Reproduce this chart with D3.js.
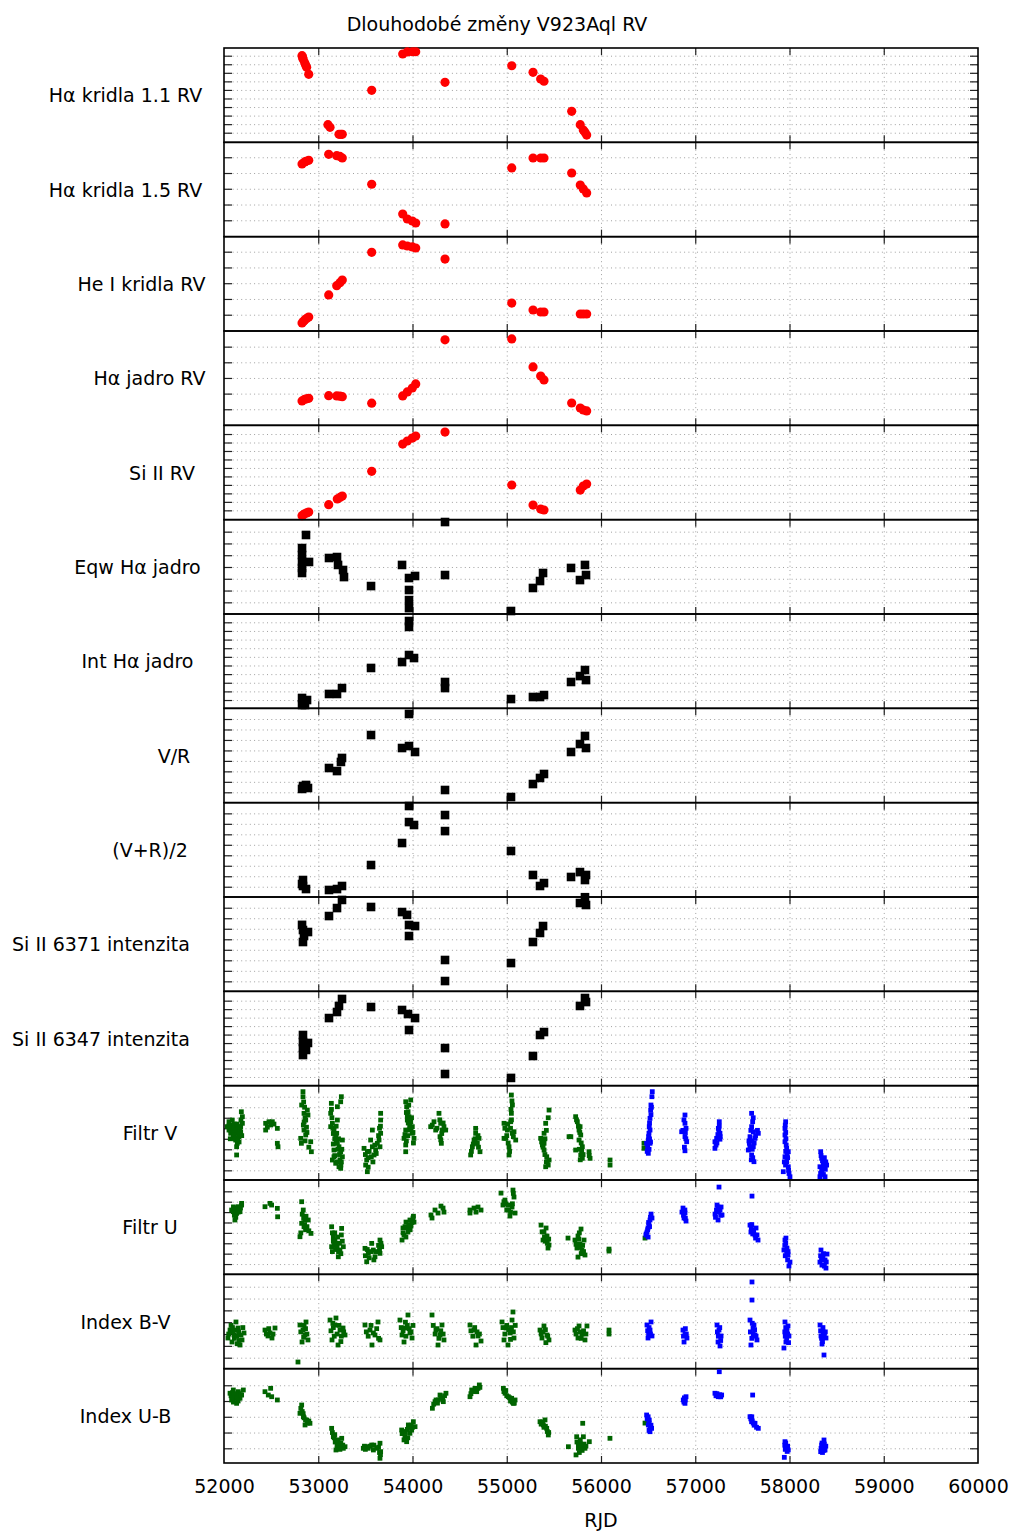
<!DOCTYPE html>
<html>
<head>
<meta charset="utf-8">
<script src="https://cdn.jsdelivr.net/npm/d3@7"></script>
<style>
  body { margin: 0; background: #fff; }
  text { font-family: "DejaVu Sans", sans-serif; fill: #000; }
</style>
</head>
<body>
<svg id="chart" width="1013" height="1532"></svg>
<script>
// ---- panel definitions (label, y-domain, tick step, number of ticks) ----
const panelLabels = [
  "Hα kridla 1.1 RV", "Hα kridla 1.5 RV", "He I kridla RV", "Hα jadro RV", "Si II RV",
  "Eqw Hα jadro", "Int Hα jadro", "V/R", "(V+R)/2", "Si II 6371 intenzita",
  "Si II 6347 intenzita", "Filtr V", "Filtr U", "Index B-V", "Index U-B"
];
const panelDomains = [
  [-9.0, 79.2], [-15.6, 74.2], [-15.5, 74.3], [-15.4, 75.0], [-8.8, 80.2],
  [-10.9, 77.2], [-7.7, 79.7], [-9.9, 80.2], [-9.8, 80.2], [-9.5, 80.2],
  [-8.2, 80.8], [-9.2, 80.5], [-9.9, 80.9], [-10.2, 77.5], [-14.0, 75.8]
];
const panelTickSteps = [8, 15, 15, 15, 8, 11, 8, 10, 10, 10, 8, 10, 10, 11, 15];
const panelTickCounts = [10, 5, 5, 5, 10, 7, 10, 8, 8, 8, 10, 8, 8, 7, 5];
const xTickValues = [52000, 53000, 54000, 55000, 56000, 57000, 58000, 59000, 60000];

// ---- spectroscopic series: [RJD, value] ----
const haWing11RV = [[52828,72.0],[52835,70.2],[52840,68.6],[52856,65.5],[52866,63.2],[52877,61.1],[52899,54.6],
  [53103,7.5],[53125,5.0],[53220,-1.5],[53240,-1.5],[53255,-1.5],[53567,39.6],
  [53896,73.6],[53945,75.5],[53998,75.7],[54034,75.7],[54345,47.1],[55053,62.6],
  [55279,56.5],[55360,50.2],[55395,48.1],[55689,20.0],[55780,7.5],[55812,2.5],[55830,0.5],[55848,-2.2]];
const haWing15RV = [[52828,53.6],[52856,55.5],[52870,56.2],[52899,57.1],
  [53111,62.8],[53196,61.5],[53230,60.8],[53255,59.3],[53567,34.3],
  [53896,6.0],[53945,1.2],[53998,-0.7],[54034,-2.6],[54345,-3.5],[55053,49.8],
  [55279,59.3],[55360,59.3],[55395,59.3],[55689,45.0],[55780,33.6],[55812,29.8],[55848,26.0]];
const heIWingRV = [[52828,-7.9],[52842,-6.5],[52856,-5.0],[52877,-3.5],[52899,-2.2],
  [53111,18.8],[53196,27.6],[53230,30.5],[53255,33.0],[53567,59.4],
  [53896,66.4],[53945,65.4],[53998,64.5],[54034,63.5],[54345,53.0],[55053,11.1],
  [55279,4.5],[55360,2.6],[55395,2.6],[55780,0.7],[55812,0.7],[55848,0.7]];
const haCoreRV = [[52828,8.0],[52856,9.6],[52877,10.0],[52899,10.5],
  [53111,13.0],[53196,12.8],[53230,12.5],[53255,12.1],[53567,5.8],
  [53896,12.8],[53945,16.6],[53998,20.4],[54034,24.3],[54345,66.5],[55053,67.4],
  [55279,40.6],[55360,31.9],[55395,28.1],[55689,6.0],[55780,1.2],[55812,-0.7],[55848,-1.6]];
const siIIRV = [[52828,-5.1],[52842,-4.2],[52856,-3.2],[52877,-2.4],[52899,-1.6],
  [53111,5.3],[53202,10.7],[53230,12.2],[53255,13.5],[53567,36.8],
  [53896,62.5],[53945,65.4],[53998,68.2],[54034,70.1],[54345,73.8],[55053,23.9],
  [55279,5.0],[55360,1.2],[55395,0.3],[55780,19.1],[55812,22.9],[55848,24.8]];
const eqwHaCore = [[52870,62.9],[52828,50.7],[52828,44.2],[52828,37.7],[52828,32.1],[52828,27.4],[52902,37.7],
  [53114,41.4],[53199,42.3],[53210,34.9],[53263,30.2],[53273,23.6],[53560,15.2],
  [53889,34.9],[53963,22.7],[53963,11.5],[53963,2.1],[53963,-5.4],[54027,24.6],
  [54345,25.5],[54345,75.0],[55045,-8.1],[55278,13.4],[55353,19.9],[55385,27.4],
  [55682,32.1],[55777,20.8],[55830,34.9],[55841,25.5]];
const intHaCore = [[52828,1.9],[52838,-1.9],[52859,-4.6],[52881,0.0],[52828,-4.6],
  [53114,5.6],[53199,5.6],[53252,11.1],[53560,29.7],[53889,35.2],[53963,41.7],[54016,38.9],
  [53963,73.2],[53963,67.7],[54345,16.7],[54345,11.1],[55045,0.9],[55278,2.8],[55353,2.8],[55395,4.6],
  [55682,16.7],[55777,22.2],[55830,27.8],[55841,18.5]];
const vrRatio = [[52838,6.0],[52891,4.1],[52828,3.2],[52870,7.0],[53114,23.2],[53199,20.3],[53252,32.8],[53241,29.0],
  [53560,54.7],[53889,42.3],[53963,44.2],[54027,38.5],[53963,74.8],[54345,2.2],[55045,-4.5],
  [55278,7.9],[55353,13.7],[55395,17.5],[55682,38.5],[55777,46.1],[55830,53.8],[55841,42.3]];
const vrMean = [[52838,6.4],[52838,0.7],[52870,-2.2],[52828,2.6],[53114,-3.1],[53199,-2.2],[53252,0.7],
  [53560,20.7],[53889,41.7],[53963,61.7],[54016,58.9],[53963,77.0],[54345,68.4],[54345,53.1],
  [55045,34.1],[55278,11.2],[55353,0.7],[55395,3.5],[55682,9.3],[55777,14.0],[55830,6.4],[55841,11.2]];
const siII6371 = [[52838,48.8],[52849,43.1],[52891,46.9],[52838,37.4],[52828,53.7],
  [53114,62.1],[53199,69.7],[53252,77.4],[53560,70.7],[53889,65.9],[53942,63.2],[53963,53.6],[53963,43.1],[54027,52.6],
  [54345,20.3],[54345,0.3],[55045,17.4],[55278,37.4],[55353,46.0],[55385,52.6],
  [55777,74.5],[55830,80.0],[55841,72.6]];
const siII6347 = [[52838,39.6],[52838,33.0],[52838,27.3],[52838,20.7],[52891,32.1],[52870,25.5],
  [53114,55.6],[53199,61.3],[53252,73.6],[53220,67.0],[53560,66.0],[53889,63.2],[53952,59.4],[53963,44.3],[54027,55.6],
  [54345,27.3],[54345,2.8],[55045,-0.9],[55278,19.8],[55353,39.6],[55395,42.4],
  [55777,67.0],[55830,74.5],[55841,70.7]];

// ---- photometry: older (green) and newer (blue) data sets ----
const filtrVOld = [[52053,46.2],[52078,43.1],[52106,39.9],[52124,38.3],[52141,35.2],[52099,33.6],[52071,35.2],[52159,32.0],
  [52124,28.8],[52141,25.7],[52134,22.4],[52177,41.5],[52195,44.7],[52184,55.7],[52195,51.0],[52177,36.7],[52053,38.3],
  [52099,30.4],[52149,41.5],[52134,14.6],[52035,41.5],[52088,47.8],
  [52060,42],[52075,38],[52090,36],[52110,34],[52115,30],[52130,31],[52145,29],[52155,36],[52165,40],[52110,44],
  [52095,40],[52050,42],[52067,30],[52120,38],[52140,44],[52180,48],[52188,33],[52160,27],
  [52442,44.7],[52477,46.2],[52513,46.2],[52442,38.3],[52495,43.1],[52566,39.9],[52566,25.7],[52573,22.4],
  [52460,41],[52500,45],[52530,44],
  [52838,74.8],[52838,70.0],[52824,62.1],[52849,54.2],[52867,47.8],[52884,57.3],[52891,52.6],[52842,43.1],[52849,38.3],
  [52814,30.4],[52821,25.7],[52867,33.6],[52920,27.2],[52927,17.7],
  [52845,65],[52855,60],[52860,50],[52850,46],[52875,41],[52880,36],[52860,28],[52900,22],
  [53139,63.7],[53132,54.2],[53150,44.7],[53167,38.3],[53185,32.0],[53203,25.7],[53167,19.3],[53150,9.8],[53185,6.7],
  [53220,3.4],[53238,1.9],[53256,12.9],[53245,70.0],[53238,65.2],[53203,47.8],[53220,22.4],[53256,28.8],[53167,12.9],
  [53132,41.5],[53196,35.2],[53238,17.7],[53203,60.5],
  [53140,58],[53145,50],[53155,40],[53160,35],[53175,30],[53190,28],[53210,20],[53225,15],[53230,10],[53240,5],
  [53200,8],[53175,14],[53160,25],[53215,30],[53250,20],[53245,8],[53190,42],
  [53486,20.9],[53521,17.7],[53514,9.8],[53503,5.0],[53521,-1.3],[53574,38.3],[53574,22.4],[53592,14.6],[53609,19.3],
  [53645,28.8],[53662,35.2],[53662,54.2],[53662,47.8],[53655,22.4],[53556,28.8],[53563,12.9],[53627,25.7],
  [53500,15],[53530,12],[53540,18],[53600,24],[53640,33],[53650,40],[53660,42],[53615,16],[53580,8],[53530,3],
  [53928,65.2],[53938,60.5],[53953,55.7],[53963,51.0],[53981,46.2],[53998,41.5],[54016,30.4],[53928,38.3],[53910,30.4],
  [53928,24.1],[53928,17.7],[53998,35.2],[53963,38.3],[53981,66.9],[53945,47.8],
  [53935,55],[53945,52],[53955,45],[53970,42],[53985,40],[54005,36],[54010,26],[53920,34],[53935,28],[53950,33],[53990,50],[53960,62],
  [54193,41.5],[54228,46.2],[54281,54.2],[54299,44.7],[54317,38.3],[54334,41.5],[54292,32.0],[54306,25.7],[54352,38.3],[54246,38.3],
  [54210,43],[54260,40],[54290,48],[54310,35],[54325,45],[54300,29],
  [54617,14.6],[54635,22.4],[54653,28.8],[54670,35.2],[54688,25.7],[54706,30.4],[54716,17.7],[54670,39.9],
  [54625,18],[54645,25],[54665,30],[54695,33],[54700,22],
  [55049,71.6],[55060,62.1],[55049,54.2],[55042,46.2],[55007,38.3],[54971,44.7],[54989,30.4],[55024,22.4],[55024,14.6],
  [55077,36.7],[55095,28.8],[55060,35.2],[54971,30.4],
  [54980,40],[55000,33],[55015,26],[55030,18],[55040,40],[55070,32],[55050,48],[55045,58],[55055,66],[55010,44],
  [55449,57.3],[55413,44.7],[55396,35.2],[55360,30.4],[55378,24.1],[55396,19.3],[55424,12.9],[55431,8.2],[55413,3.4],
  [55449,9.8],[55396,25.7],
  [55370,27],[55385,22],[55405,15],[55420,8],[55440,5],[55405,30],[55420,38],[55440,50],
  [55731,51.0],[55749,46.2],[55778,41.5],[55785,33.6],[55767,28.8],[55802,22.4],[55785,14.6],[55802,11.4],[55873,17.7],
  [55884,11.4],[55661,32.0],[55731,19.3],[55767,38.3],
  [55740,48],[55760,42],[55775,36],[55790,26],[55795,18],[55780,10],[55810,15],[55770,20],[55680,32],[55875,14],
  [56096,9.8],[56096,5.0],[56456,25.7],[56456,20.9]];
const filtrVNew = [[56544,74.8],[56530,62.1],[56527,57.3],[56520,49.4],[56512,41.5],[56509,35.2],[56502,28.8],[56495,22.4],
  [56502,16.2],[56520,38.3],[56520,25.7],[56484,25.7],
  [56515,45],[56505,32],[56515,30],[56525,27],[56490,18],[56510,20],[56530,53],[56535,60],[56540,70],
  [56891,52.6],[56891,44.7],[56856,36.7],[56902,39.9],[56891,32.0],[56909,27.2],[56891,18.6],
  [56880,48],[56895,36],[56900,30],[56870,38],[56885,22],
  [57255,46.2],[57245,39.9],[57262,35.2],[57227,30.4],[57209,27.2],[57209,20.9],[57262,29.6],
  [57240,34],[57250,38],[57230,26],[57220,24],[57255,42],[57265,32],
  [57598,54.2],[57609,46.2],[57598,41.5],[57616,36.7],[57669,35.2],[57581,32.0],[57574,25.7],[57563,19.3],[57598,14.6],
  [57623,8.2],[57634,30.4],[57616,22.4],
  [57590,38],[57600,28],[57605,20],[57610,12],[57580,22],[57625,26],[57640,33],[57660,38],[57570,28],[57615,50],[57595,10],
  [57959,46.2],[57952,39.9],[57952,33.6],[57952,27.2],[57970,20.9],[57987,17.7],[57952,12.9],[57970,8.2],[57987,3.4],
  [57934,-1.3],[58005,-6.1],
  [57955,43],[57960,36],[57962,30],[57965,24],[57975,15],[57980,12],[57958,5],[57990,0],[57995,-3],[57960,18],[57945,8],
  [58331,17.7],[58341,11.4],[58359,6.7],[58323,3.4],[58394,5.0],[58341,-1.3],[58377,-6.1],[58323,-6.1],
  [58335,14],[58350,9],[58365,4],[58345,0],[58360,-4],[58380,1],[58385,8],[58330,-3],[58370,12]];
const filtrUOld = [[52081,52.0],[52116,53.6],[52152,55.2],[52187,56.8],[52134,48.8],[52116,42.4],[52170,50.4],[52187,58.4],[52099,50.4],
  [52100,55],[52125,52],[52140,54],[52160,52],[52110,47],[52125,45],[52150,50],[52175,54],
  [52435,55.2],[52488,58.4],[52505,56.8],[52566,53.6],[52569,45.5],
  [52824,60.0],[52841,52.0],[52859,42.4],[52824,39.2],[52806,26.3],[52849,35.9],[52894,42.4],[52923,29.5],[52870,46.0],
  [52830,48],[52845,44],[52855,38],[52865,33],[52880,36],[52900,32],[52815,30],
  [53142,35.9],[53248,34.3],[53160,26.3],[53195,19.9],[53230,13.5],[53142,16.7],[53266,16.7],[53213,7.0],[53177,23.1],
  [53150,30],[53160,22],[53170,18],[53185,14],[53200,16],[53215,12],[53225,20],[53240,10],[53255,22],[53205,26],[53175,30],[53150,12],[53245,28],
  [53496,15.1],[53531,10.3],[53514,2.2],[53584,13.5],[53602,7.0],[53655,23.1],[53673,16.7],[53567,19.9],[53655,10.3],
  [53500,8],[53520,14],[53540,6],[53560,12],[53610,12],[53640,18],[53650,14],[53665,20],[53590,4],
  [53899,34.7],[53931,40.4],[53973,42.4],[54005,44.3],[53910,27.9],[53952,30.8],[53984,36.6],[54016,40.4],[53889,23.1],
  [53900,30],[53920,36],[53940,35],[53960,38],[53975,33],[53995,40],[54010,46],[53930,26],
  [54196,47.2],[54239,52.0],[54302,55.8],[54334,50.0],[54207,44.3],[54271,49.1],[54324,53.9],
  [54610,52.0],[54653,53.9],[54695,54.9],[54727,52.0],[54610,49.1],[54674,50.0],
  [54939,68.3],[54981,61.6],[55013,56.8],[55056,54.9],[55088,49.1],[55066,71.2],[55077,64.5],[54960,56.8],[55034,46.2],
  [54970,60],[54990,58],[55000,52],[55020,52],[55040,50],[55060,58],[55070,68],
  [55364,37.5],[55395,30.8],[55427,27.0],[55448,18.3],[55385,23.1],[55417,34.7],[55438,15.4],
  [55375,31],[55400,26],[55410,22],[55430,20],[55445,24],
  [55724,23.1],[55756,27.0],[55777,19.3],[55798,13.5],[55820,23.1],[55745,15.4],[55830,8.7],[55650,25.0],[55788,33.7],[55756,6.7],
  [55735,19],[55765,24],[55780,16],[55790,10],[55805,18],[55815,12],[55770,30],
  [56085,14.4],[56085,12.5],[56467,25.0]];
const filtrUNew = [[56477,27.9],[56499,34.7],[56520,42.4],[56531,48.1],[56509,37.5],[56488,30.8],[56541,44.3],
  [56495,33],[56505,40],[56515,36],[56525,45],[56480,29],[56500,26],
  [56870,53.9],[56891,49.1],[56881,44.3],[56902,41.4],[56859,50.0],
  [56875,47],[56890,52],[56895,44],
  [57252,74.1],[57231,56.8],[57263,52.0],[57284,47.2],[57210,48.1],[57242,42.4],[57274,54.9],
  [57225,52],[57250,50],[57270,47],[57240,55],[57215,45],
  [57602,65.4],[57581,37.5],[57613,32.7],[57634,27.9],[57666,23.1],[57591,30.8],[57645,34.7],
  [57595,35],[57610,29],[57620,31],[57640,25],[57655,28],[57600,38],
  [57952,23.1],[57973,15.4],[57984,8.7],[58005,1.9],[57941,13.5],[57962,25.0],[57994,-1.9],
  [57950,18],[57960,20],[57970,10],[57980,4],[57955,8],[57985,12],
  [58334,13.5],[58355,7.7],[58377,3.9],[58344,-1.0],[58387,-3.9],[58323,1.9],[58398,9.6],
  [58330,8],[58345,4],[58360,10],[58370,-2],[58340,6],[58390,2]];
const indexBVOld = [[52064,25.7],[52106,21.1],[52149,27.6],[52191,16.5],[52127,33.2],[52170,11.8],[52085,14.6],[52042,18.3],
  [52212,23.0],[52120,25.7],[52180,21.1],
  [52050,22],[52075,30],[52095,24],[52110,18],[52135,20],[52155,24],[52160,16],[52200,28],[52140,13],[52090,28],
  [52435,25.7],[52488,23.0],[52541,27.6],[52509,18.3],[52467,20.2],
  [52450,22],[52475,27],[52520,22],
  [52785,-4.0],[52806,30.4],[52838,25.7],[52859,21.1],[52891,16.5],[52828,14.6],[52870,33.2],
  [52815,24],[52845,19],[52865,27],[52880,22],[52850,30],
  [53125,35.0],[53178,30.4],[53231,25.7],[53284,21.1],[53146,16.5],[53210,11.8],[53263,27.6],[53188,36.9],
  [53135,25],[53160,28],[53170,20],[53200,22],[53220,30],[53245,20],[53270,24],[53155,32],[53240,15],
  [53496,30.4],[53549,25.7],[53602,21.1],[53655,16.5],[53570,11.8],[53634,33.2],
  [53510,24],[53530,20],[53560,30],[53585,23],[53620,27],[53640,18],
  [53867,35.0],[53920,27.6],[53973,23.0],[53995,18.3],[53910,14.6],[53952,39.7],[53889,21.1],
  [53880,28],[53900,25],[53930,20],[53945,30],[53965,27],[53985,24],[54005,30],[53925,33],
  [54207,39.7],[54249,25.7],[54292,21.1],[54334,16.5],[54271,11.8],[54313,30.4],
  [54220,30],[54240,22],[54260,27],[54280,18],[54300,25],[54325,22],
  [54610,30.4],[54653,25.7],[54695,20.2],[54727,15.5],[54674,11.8],
  [54620,25],[54640,20],[54660,28],[54685,24],[54710,22],
  [54950,33.2],[54992,27.6],[55034,23.0],[55066,42.5],[55077,18.3],[54971,16.5],[55013,11.8],[55056,35.0],
  [54960,28],[54980,22],[55000,30],[55020,26],[55040,17],[55050,28],[55070,24],[55090,30],
  [55353,25.7],[55395,29.5],[55427,21.1],[55448,16.5],[55374,18.3],
  [55365,22],[55385,24],[55410,26],[55435,20],[55415,14],
  [55724,25.7],[55767,29.5],[55798,22.0],[55830,16.5],[55756,18.3],[55851,29.5],
  [55735,22],[55750,27],[55780,24],[55790,18],[55815,25],[55840,22],
  [56085,25.7],[56085,22.0]];
const indexBVNew = [[56488,30.4],[56520,25.7],[56541,20.2],[56499,18.3],[56531,33.2],
  [56495,25],[56510,28],[56525,22],[56505,22],
  [56870,25.7],[56891,22.0],[56912,18.3],[56881,14.6],
  [56875,20],[56895,27],[56905,22],
  [57231,30.4],[57252,25.7],[57274,20.2],[57242,14.6],[57263,10.9],
  [57235,24],[57245,20],[57260,28],[57270,16],
  [57602,70.4],[57602,53.6],[57581,35.0],[57613,27.6],[57634,21.1],[57655,16.5],[57591,11.8],[57623,30.4],
  [57585,24],[57600,18],[57615,22],[57630,26],[57645,20],[57605,32],
  [57952,33.2],[57973,25.7],[57994,20.2],[57962,14.6],[57941,9.0],[57984,29.5],
  [57950,24],[57960,28],[57970,18],[57980,22],[57990,14],[57955,20],
  [58324,30.4],[58356,23.9],[58387,18.3],[58345,12.7],[58366,2.5],[58334,20.2],
  [58330,25],[58340,18],[58355,28],[58370,20],[58380,24],[58350,15]];
const indexUBOld = [[52064,52.4],[52099,55.5],[52152,53.9],[52187,50.7],[52117,47.6],[52134,42.8],[52081,46.0],[52205,55.5],[52170,47.6],
  [52075,50],[52090,53],[52110,52],[52125,50],[52140,48],[52160,52],[52180,51],[52100,44],[52150,45],
  [52435,53.9],[52470,50.7],[52506,49.1],[52495,57.1],[52566,46.0],
  [52824,41.2],[52806,33.3],[52842,30.1],[52877,26.9],[52912,23.8],[52860,22.2],
  [52815,38],[52830,35],[52850,29],[52865,27],[52885,24],[52900,26],[52840,33],
  [53142,19.0],[53160,11.0],[53195,6.3],[53231,3.1],[53284,1.5],[53188,-1.6],[53249,9.5],[53266,0.0],
  [53150,15],[53170,10],[53180,6],[53200,4],[53210,8],[53220,2],[53240,5],[53260,3],[53175,13],[53200,0],[53230,-1],
  [53478,0.0],[53514,1.5],[53567,3.1],[53585,-1.6],[53655,4.8],[53662,-3.2],[53655,-9.5],[53620,0.0],
  [53490,2],[53500,-1],[53530,0],[53550,2],[53590,3],[53640,1],[53650,-4],[53660,-6],
  [53885,17.4],[53920,11.0],[53938,6.3],[53973,14.3],[54009,25.3],[54027,20.6],[53956,22.2],[53991,17.4],
  [53890,14],[53905,16],[53925,15],[53945,18],[53965,20],[53985,22],[54000,20],[53910,8],[53950,10],
  [54211,38.1],[54239,44.4],[54292,50.7],[54327,44.4],[54355,52.4],[54274,46.0],
  [54225,42],[54250,46],[54265,43],[54300,48],[54320,47],[54340,50],
  [54610,49.1],[54628,55.5],[54663,57.1],[54709,60.3],[54681,53.9],
  [54620,52],[54645,54],[54670,56],[54695,57],[54715,58],
  [54964,57.1],[54982,52.4],[55017,49.1],[55052,47.6],[55070,42.8],[55088,46.0],
  [54970,54],[54990,55],[55000,50],[55030,48],[55040,45],[55060,44],[55080,43],
  [55353,25.3],[55388,22.2],[55424,19.0],[55441,12.7],[55406,27.0],
  [55365,23],[55380,25],[55395,20],[55410,21],[55430,16],[55445,15],
  [55654,1.5],[55735,-6.3],[55742,11.0],[55777,4.8],[55806,23.8],[55813,11.0],[55830,0.0],[55876,6.3],[55760,0.0],
  [55745,6],[55760,4],[55780,8],[55790,2],[55800,-2],[55820,4],[55840,2],[55770,-4],
  [56095,9.5],[56467,24.0]];
const indexUBNew = [[56484,31.7],[56512,26.9],[56537,19.0],[56502,22.2],[56520,15.8],
  [56490,28],[56500,30],[56510,24],[56520,20],[56530,22],[56510,17],
  [56873,46.0],[56891,42.8],[56902,49.1],
  [56880,44],[56895,46],[56885,48],
  [57209,52.4],[57245,49.1],[57280,50.7],[57255,72.9],
  [57220,50],[57230,52],[57240,50],[57260,51],[57270,49],
  [57609,50.7],[57581,30.1],[57598,25.3],[57634,23.8],[57669,19.0],
  [57590,28],[57605,26],[57615,24],[57625,22],[57650,20],[57600,30],
  [57952,6.3],[57970,1.5],[57987,-1.6],[57945,-8.6],
  [57950,3],[57960,5],[57965,0],[57975,-3],[57955,-1],[57980,2],
  [58341,3.1],[58366,7.9],[58377,-1.6],[58331,-3.2],
  [58335,0],[58345,5],[58355,2],[58365,-2],[58370,4],[58350,-4],[58385,2]];

// ---- which series go into which panel, and how they are marked ----
const RED = "#ff0000", BLACK = "#000000", GREEN = "#006400", BLUE = "#0000ff";
const panelSeries = [
  [{ data: haWing11RV, color: RED, mark: "circle" }],
  [{ data: haWing15RV, color: RED, mark: "circle" }],
  [{ data: heIWingRV, color: RED, mark: "circle" }],
  [{ data: haCoreRV, color: RED, mark: "circle" }],
  [{ data: siIIRV, color: RED, mark: "circle" }],
  [{ data: eqwHaCore, color: BLACK, mark: "bigSquare" }],
  [{ data: intHaCore, color: BLACK, mark: "bigSquare" }],
  [{ data: vrRatio, color: BLACK, mark: "bigSquare" }],
  [{ data: vrMean, color: BLACK, mark: "bigSquare" }],
  [{ data: siII6371, color: BLACK, mark: "bigSquare" }],
  [{ data: siII6347, color: BLACK, mark: "bigSquare" }],
  [{ data: filtrVOld, color: GREEN, mark: "square" }, { data: filtrVNew, color: BLUE, mark: "square" }],
  [{ data: filtrUOld, color: GREEN, mark: "square" }, { data: filtrUNew, color: BLUE, mark: "square" }],
  [{ data: indexBVOld, color: GREEN, mark: "square" }, { data: indexBVNew, color: BLUE, mark: "square" }],
  [{ data: indexUBOld, color: GREEN, mark: "square" }, { data: indexUBNew, color: BLUE, mark: "square" }]
];

// ---- layout ----
const plotLeft = 224, plotRight = 978, plotTop = 48, plotBottom = 1463;
const labelCenters = [125.5, 125.5, 141.5, 149.5, 162, 137.5, 137.5, 174, 150, 101, 101, 150, 150, 125.5, 125.5];
const fontSize = 19;
const panelH = (plotBottom - plotTop) / panelLabels.length;

const svg = d3.select("#chart");
const x = d3.scaleLinear().domain([52000, 60000]).range([plotLeft, plotRight]);
const innerXTicks = xTickValues.slice(1, -1);

svg.append("text")
  .attr("x", 497).attr("y", 31)
  .attr("text-anchor", "middle").style("font-size", fontSize + "px")
  .text("Dlouhodobé změny V923Aql RV");

panelLabels.forEach((label, i) => {
  const top = plotTop + i * panelH, bottom = top + panelH;
  const y = d3.scaleLinear().domain(panelDomains[i]).range([bottom, top]);
  const ticks = d3.range(panelTickCounts[i]).map(k => k * panelTickSteps[i]);
  const g = svg.append("g");

  // dotted grid
  const gridStyle = sel => {
    sel.select(".domain").remove();
    sel.selectAll(".tick line").attr("stroke", "#a0a0a0").attr("stroke-width", 1).attr("stroke-dasharray", "1,3.3");
  };
  g.append("g").attr("transform", `translate(${plotLeft},0)`)
    .call(d3.axisLeft(y).tickValues(ticks).tickSize(-(plotRight - plotLeft)).tickFormat(""))
    .call(gridStyle);
  g.append("g").attr("transform", `translate(0,${bottom})`)
    .call(d3.axisBottom(x).tickValues(innerXTicks).tickSize(-panelH).tickFormat(""))
    .call(gridStyle);

  // tick marks on all four sides, pointing inward
  const tickStyle = sel => {
    sel.select(".domain").remove();
    sel.selectAll(".tick line").attr("stroke", "#222").attr("stroke-width", 1.2);
  };
  g.append("g").attr("transform", `translate(${plotLeft},0)`)
    .call(d3.axisLeft(y).tickValues(ticks).tickSize(-8).tickFormat("")).call(tickStyle);
  g.append("g").attr("transform", `translate(${plotRight},0)`)
    .call(d3.axisRight(y).tickValues(ticks).tickSize(-8).tickFormat("")).call(tickStyle);
  g.append("g").attr("transform", `translate(0,${bottom})`)
    .call(d3.axisBottom(x).tickValues(innerXTicks).tickSize(-7).tickFormat("")).call(tickStyle);
  g.append("g").attr("transform", `translate(0,${top})`)
    .call(d3.axisTop(x).tickValues(innerXTicks).tickSize(-7).tickFormat("")).call(tickStyle);

  // frame
  g.append("rect")
    .attr("x", plotLeft).attr("y", top)
    .attr("width", plotRight - plotLeft).attr("height", panelH)
    .attr("fill", "none").attr("stroke", "#000").attr("stroke-width", 1.6);

  // panel label
  g.append("text")
    .attr("x", labelCenters[i]).attr("y", (top + bottom) / 2 + 7)
    .attr("text-anchor", "middle").style("font-size", fontSize + "px")
    .text(label);

  // data marks
  panelSeries[i].forEach(s => {
    if (s.mark === "circle") {
      g.append("g").selectAll("circle").data(s.data).join("circle")
        .attr("cx", d => x(d[0])).attr("cy", d => y(d[1])).attr("r", 4.6)
        .attr("fill", s.color);
    } else {
      const size = s.mark === "bigSquare" ? 8.6 : 4.8;
      g.append("g").selectAll("rect").data(s.data).join("rect")
        .attr("x", d => x(d[0]) - size / 2).attr("y", d => y(d[1]) - size / 2)
        .attr("width", size).attr("height", size)
        .attr("fill", s.color);
    }
  });
});

// bottom axis labels
svg.append("g").attr("transform", `translate(0,${plotBottom})`)
  .call(d3.axisBottom(x).tickValues(xTickValues).tickSize(0).tickPadding(17).tickFormat(d3.format("d")))
  .call(sel => {
    sel.select(".domain").remove();
    sel.selectAll("text").style("font-size", fontSize + "px").style("font-family", "'DejaVu Sans', sans-serif").attr("fill", "#000");
  });

svg.append("text")
  .attr("x", (plotLeft + plotRight) / 2).attr("y", 1527)
  .attr("text-anchor", "middle").style("font-size", fontSize + "px")
  .text("RJD");
</script>
</body>
</html>
